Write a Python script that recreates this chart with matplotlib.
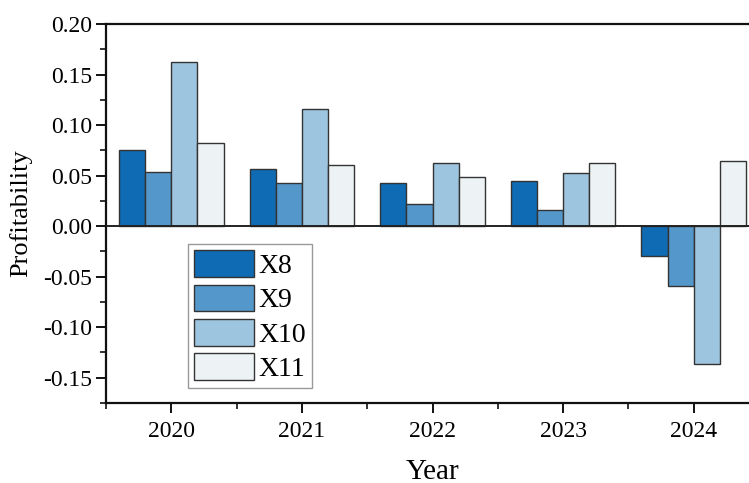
import numpy as np
import matplotlib.pyplot as plt
from matplotlib.ticker import MultipleLocator

plt.rcParams['font.family'] = ['Liberation Serif', 'DejaVu Serif']

years = [2020, 2021, 2022, 2023, 2024]
x8 = [0.075, 0.0566, 0.0427, 0.0443, -0.0298]
x9 = [0.0536, 0.0427, 0.0215, 0.0163, -0.0598]
x10 = [0.163, 0.1158, 0.0629, 0.0523, -0.137]
x11 = [0.0823, 0.0602, 0.049, 0.0629, 0.0645]
names = ['X8', 'X9', 'X10', 'X11']
colors = ['#0f6bb3', '#5497cb', '#9dc5e0', '#edf3f4']

fig = plt.figure(figsize=(7.49, 4.83), dpi=100)
# right edge of the axes runs a little past the figure
ax = fig.add_axes([0.1415, 0.166, 0.8719, 0.784])

w = 0.2
xs = np.array(years, dtype=float)
for i, (vals, name) in enumerate(zip([x8, x9, x10, x11], names)):
    ax.bar(xs + (i - 1.5) * w, vals, width=w, color=colors[i],
           edgecolor='#333333', linewidth=1.0, label=name, zorder=2)

ax.axhline(0, color='#222222', linewidth=1.4, zorder=3)

ax.set_xlim(2019.5, 2024.5)
ax.set_ylim(-0.175, 0.2)
ax.set_xticks(years)
ax.set_xticklabels([str(y) for y in years])
ax.xaxis.set_minor_locator(MultipleLocator(0.5))
ax.yaxis.set_major_locator(MultipleLocator(0.05))
ax.yaxis.set_minor_locator(MultipleLocator(0.025))
ax.yaxis.set_major_formatter(plt.FormatStrFormatter('%.2f'))

ax.tick_params(axis='both', which='major', direction='out', length=7, width=1.4,
               labelsize=17, color='#111111')
ax.tick_params(axis='both', which='minor', direction='out', length=4, width=1.2,
               color='#111111')
ax.tick_params(axis='y', pad=3)
ax.tick_params(axis='x', pad=6)
for s in ax.spines.values():
    s.set_linewidth(1.6)
    s.set_color('#111111')

ax.set_xlabel('Year', fontsize=21, labelpad=12)
ax.set_ylabel('Profitability', fontsize=19, labelpad=8)

leg = ax.legend(loc='upper left', bbox_to_anchor=(0.1256, 0.419), fontsize=20,
                handlelength=2.15, handleheight=1.1, labelspacing=0.2,
                borderpad=0.22, handletextpad=0.15, borderaxespad=0,
                fancybox=False, framealpha=1)
leg.get_frame().set_edgecolor('#999999')
leg.get_frame().set_linewidth(1.0)

fig.savefig('out.png', dpi=100)
